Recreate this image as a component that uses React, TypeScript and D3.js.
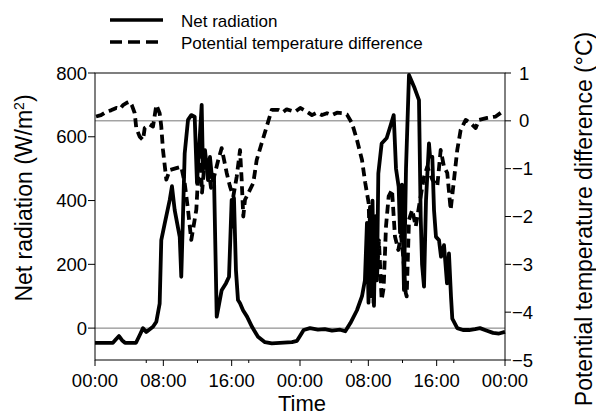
import React from "react";
import * as d3 from "d3";

// ---- Data (hours since start, values) ----
const radHours = [
  0, 2.1, 2.46, 2.81, 3.16, 3.51, 4.8, 5.27, 5.62, 6.0, 6.79, 7.18, 7.57, 7.76, 8.16, 8.75, 9.01, 9.33, 9.92, 10.1, 10.3,
  10.5, 10.89, 11.27, 11.67, 11.94, 12.18, 12.49, 12.64, 12.88, 13.23, 13.46, 13.7, 13.93, 14.25, 14.83, 15.34, 15.69,
  16.0, 16.16, 16.27, 16.5, 16.74, 16.98, 17.33, 17.8, 18.38, 19.08, 19.9, 20.7, 23.06, 23.65, 24.0, 24.43, 25.17,
  26.1, 26.9, 27.75, 28.7, 29.3, 29.9, 30.67, 31.26, 31.6, 31.84, 32.02, 32.19, 32.37, 32.49, 32.66, 32.84, 33.01,
  33.17, 33.56, 34.15, 34.54, 34.97, 35.24, 35.55, 35.71, 35.94, 36.17, 36.41, 36.76, 37.35, 37.93, 38.13, 38.29,
  38.52, 38.75, 39.1, 39.22, 39.49, 39.69, 39.92, 40.27, 40.51, 40.86, 41.21, 41.44, 41.68, 41.83, 42.41, 43.08,
  43.79, 44.49, 45.07, 45.89, 46.6, 47.3, 48,
];
const radValues = [
  -46, -46, -35, -25, -38, -46, -46, -20, 0, -12, 4, 20, 77, 276, 328, 402, 445, 370, 286, 161, 349,
  548, 653, 668, 663, 455, 560, 700, 496, 558, 464, 537, 470, 475, 36, 119, 141, 161,
  402, 318, 408, 182, 88, 78, 56, 36, 4, -27, -44, -48, -44, -40, -25, -6, 0,
  -5, -3, -8, -5, -10, 16, 56, 100, 150, 330, 80, 380, 100, 400, 70, 350, 150,
  485, 579, 596, 630, 668, 500, 443, 300, 450, 120, 500, 794, 757, 715, 349, 200,
  130, 400, 579, 540, 537, 370, 286, 276, 224, 260, 140, 234, 98, 30, 0, -6,
  -6, -3, 0, -8, -15, -17, -12,
];

const tempHours = [
  0.12, 0.7, 1.32, 1.87, 2.49, 2.93, 3.28, 3.75, 4.06, 4.33, 4.65, 4.83, 5.23, 5.62, 5.82, 6.4, 6.79, 7.18, 7.57, 7.76,
  7.96, 8.35, 8.75, 9.52, 10.1, 10.5, 10.89, 11.27, 11.47, 11.86, 12.06, 12.29, 12.53, 12.76, 13.0, 13.26, 13.58,
  13.85, 14.43, 14.83, 15.42, 15.8, 16.19, 16.59, 16.98, 17.17, 17.36, 17.56, 17.95, 18.53, 18.93, 19.51, 20.1,
  20.69, 21.46, 22.0, 22.44, 23.41, 24.03, 24.82, 25.4, 25.99, 26.57, 27.16, 27.75, 28.33, 28.92, 29.5, 30.09,
  30.67, 31.26, 31.64, 32.04, 32.25, 32.43, 32.61, 32.82, 33.0, 33.24, 33.56, 33.79, 34.07, 34.38, 34.77, 35.12,
  35.51, 35.83, 36.09, 36.38, 36.49, 36.76, 37.14, 37.55, 37.93, 38.52, 38.9, 39.49, 40.07, 40.47, 40.86, 41.24,
  41.64, 42.03, 42.41, 42.81, 43.4, 43.98, 44.57, 44.95, 45.92, 46.91, 47.69, 48,
];
const tempValues = [
  0.09, 0.12, 0.19, 0.22, 0.27, 0.25, 0.33, 0.38, 0.4, 0.32, 0.16, -0.15, -0.33, -0.4, -0.15, -0.08, -0.12, 0.33, 0.16, -0.12,
  -0.61, -1.23, -1.03, -0.99, -0.96, -1.3, -1.86, -2.49, -2.28, -1.86, -1.2, -0.54, -1.5, -1.0, -0.8, -0.96, -1.4,
  -1.23, -0.82, -0.57, -1.09, -1.37, -1.58, -1.17, -0.61, -1.23, -2.0, -1.65, -1.51, -1.3, -0.82, -0.47, -0.12,
  0.23, 0.23, 0.18, 0.24, 0.19, 0.27, 0.19, 0.12, 0.17, 0.12, 0.16, 0.12, 0.17, 0.16, 0.13, -0.05,
  -0.4, -0.82, -1.3, -1.72, -3.2, -1.8, -3.8, -2.0, -3.3, -2.5, -3.74, -3.5, -2.2, -1.58, -1.44, -2.42,
  -2.7, -2.4, -2.84, -3.6, -3.67, -2.07, -1.86, -2.21, -1.79, -1.17, -0.96, -1.23, -1.37, -0.61, -0.96, -1.09,
  -1.86, -1.23, -0.61, -0.19, 0.02, -0.05, -0.15, 0.02, 0.06, 0.09, 0.19, 0.22,
];

const xTickHours = [0, 6, 8, 12, 16, 18, 24, 30, 32, 36, 40, 42, 48];
const xLabelHours = [0, 8, 16, 24, 32, 40, 48];
const xLabels = ["00:00", "08:00", "16:00", "00:00", "08:00", "16:00", "00:00"];
const leftTicks = [0, 200, 400, 600, 800];
const rightTicks = [1, 0, -1, -2, -3, -4, -5];

const legendLabels = ["Net radiation", "Potential temperature difference"];
const leftTitle = "Net radiation (W/m";
const rightTitle = "Potential temperature difference (°C)";
const xTitle = "Time";

const FONT = "'Liberation Sans', Arial, Helvetica, sans-serif";

export default function App() {
  const W = 596, H = 417;
  const x = d3.scaleLinear().domain([0, 48]).range([95, 505]);
  const yL = d3.scaleLinear().domain([-100, 800]).range([360, 73]);
  const yR = d3.scaleLinear().domain([-5, 1]).range([360, 73]);

  const radPts: [number, number][] = radHours.map((h, i) => [h, radValues[i]]);
  const tempPts: [number, number][] = tempHours.map((h, i) => [h, tempValues[i]]);
  const radLine = d3.line<[number, number]>().x((d) => x(d[0])).y((d) => yL(d[1]));
  const tempLine = d3.line<[number, number]>().x((d) => x(d[0])).y((d) => yR(d[1]));

  const fmtMinus = (v: number) => (v < 0 ? "\u2212" + Math.abs(v) : String(v));

  return (
    <svg width={W} height={H} style={{ position: "absolute", left: 0, top: 0, background: "#fff" }} fontFamily={FONT}>
      <rect x={0} y={0} width={W} height={H} fill="#fff" />
      {/* legend */}
      <line x1={110} x2={163} y1={20} y2={20} stroke="#000" strokeWidth={3.5} />
      <line x1={110} x2={158} y1={42} y2={42} stroke="#000" strokeWidth={3.5} strokeDasharray="12,6" />
      <text x={181} y={26.5} fontSize={17}>{legendLabels[0]}</text>
      <text x={181} y={49} fontSize={17}>{legendLabels[1]}</text>

      {/* reference zero lines */}
      <line x1={95} x2={505} y1={yL(0)} y2={yL(0)} stroke="#777" strokeWidth={1} />
      <line x1={95} x2={505} y1={yR(0)} y2={yR(0)} stroke="#777" strokeWidth={1} />

      {/* data */}
      <path d={radLine(radPts) || ""} fill="none" stroke="#000" strokeWidth={3.8} strokeLinejoin="round" />
      <path d={tempLine(tempPts) || ""} fill="none" stroke="#000" strokeWidth={3.8} strokeDasharray="9,5" strokeLinejoin="round" />

      {/* frame */}
      <rect x={95} y={73} width={410} height={287} fill="none" stroke="#000" strokeWidth={1} />

      {/* x axis */}
      {xTickHours.map((h, i) => {
        const labeled = xLabelHours.includes(h);
        return <line key={"xt" + i} x1={x(h)} x2={x(h)} y1={360} y2={labeled ? 366 : 363} stroke="#000" strokeWidth={1} />;
      })}
      {xLabelHours.map((h, i) => (
        <text key={"xl" + i} x={x(h)} y={387} fontSize={18.5} textAnchor="middle">{xLabels[i]}</text>
      ))}
      <text x={302} y={411} fontSize={22} textAnchor="middle">{xTitle}</text>

      {/* left axis */}
      {leftTicks.map((v) => (
        <g key={"lt" + v}>
          <line x1={88} x2={95} y1={yL(v)} y2={yL(v)} stroke="#000" strokeWidth={1} />
          <text x={87} y={yL(v) + 6.5} fontSize={18.5} textAnchor="end">{v}</text>
        </g>
      ))}
      <text transform={`translate(32,198) rotate(-90)`} fontSize={23} textAnchor="middle">
        {leftTitle}
        <tspan dy={-8} fontSize={14}>2</tspan>
        <tspan dy={8}>)</tspan>
      </text>

      {/* right axis */}
      {rightTicks.map((v) => (
        <g key={"rt" + v}>
          <line x1={505} x2={511} y1={yR(v)} y2={yR(v)} stroke="#000" strokeWidth={1} />
          <text x={v < 0 ? 512 : 519} y={yR(v) + 6.5} fontSize={18.5} textAnchor="start">{fmtMinus(v)}</text>
        </g>
      ))}
      <text transform={`translate(592,219) rotate(-90)`} fontSize={23} textAnchor="middle">{rightTitle}</text>
    </svg>
  );
}
